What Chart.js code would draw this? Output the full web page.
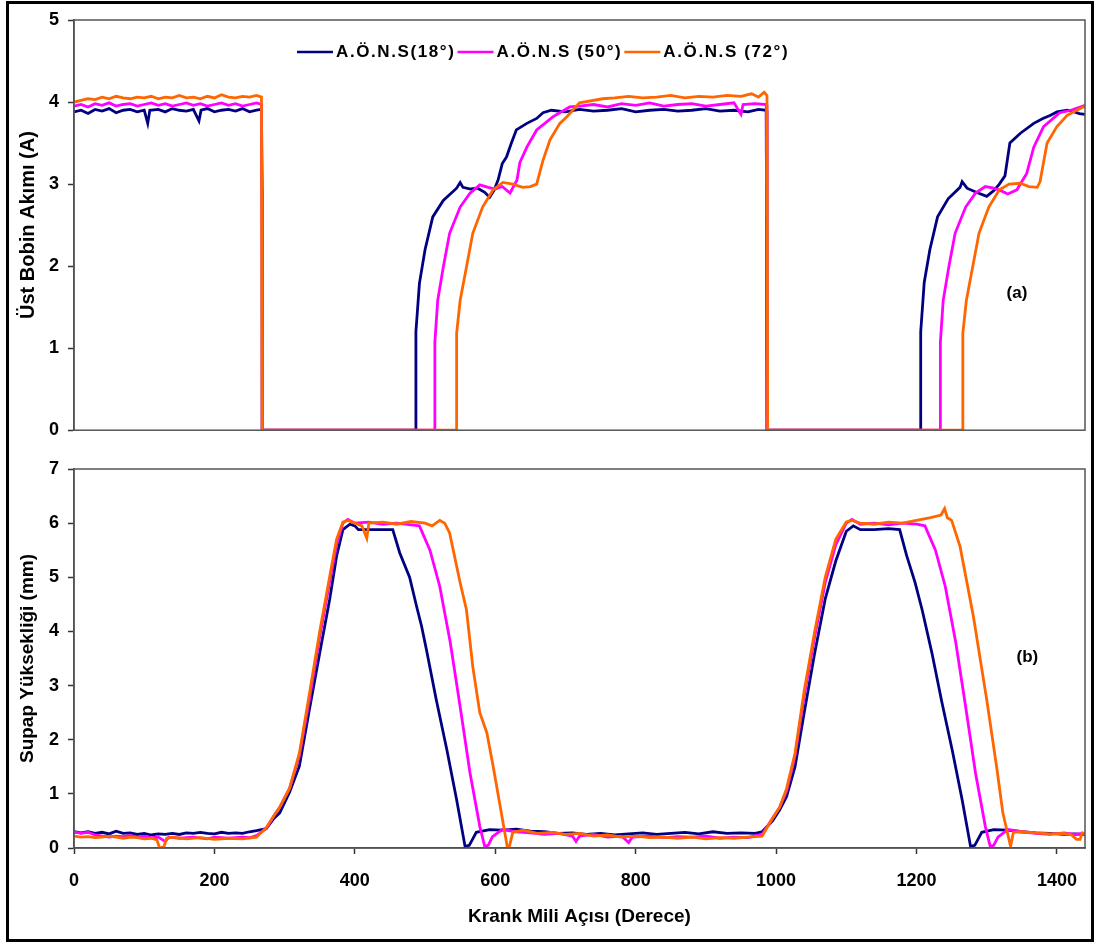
<!DOCTYPE html>
<html>
<head>
<meta charset="utf-8">
<title>Üst Bobin Akımı ve Supap Yüksekliği</title>
<script src="https://cdn.jsdelivr.net/npm/chart.js@4.4.1/dist/chart.umd.min.js"></script>
<style>
  body { margin: 0; background: #fff; }
  #frame { position: absolute; left: 6px; top: 1px; width: 1088px; height: 941px; border: 3px solid #000; box-sizing: border-box; }
  .panel { position: absolute; left: 0; width: 1096px; }
  #topBox { top: 0; height: 450px; }
  #bottomBox { top: 440px; height: 503px; }
</style>
</head>
<body>
<div id="frame"></div>
<div class="panel" id="topBox"><canvas id="coilChart"></canvas></div>
<div class="panel" id="bottomBox"><canvas id="liftChart"></canvas></div>
<script>
// series names and colours
const seriesLabels = ['A.Ö.N.S(18°)', 'A.Ö.N.S (50°)', 'A.Ö.N.S (72°)'];
const seriesColors = ['#000080', '#ff00ff', '#ff6600'];

const xTitle = 'Krank Mili Açısı (Derece)';
const coilTitle = 'Üst Bobin Akımı (A)';
const liftTitle = 'Supap Yüksekliği (mm)';
const xTickValues = [0, 200, 400, 600, 800, 1000, 1200, 1400];

// (a) upper coil current, [crank angle, A]
const coil18 = [[0,3.88],[10,3.9],[20,3.86],[30,3.91],[40,3.89],[50,3.92],[60,3.87],[70,3.9],[80,3.91],[90,3.88],[100,3.9],[105,3.74],[108,3.9],[120,3.91],[130,3.88],[140,3.92],[150,3.9],[160,3.89],[170,3.91],[178,3.77],[181,3.9],[190,3.92],[200,3.88],[210,3.9],[220,3.91],[230,3.89],[240,3.92],[250,3.88],[260,3.9],[267,3.91],[268,2.9],[268,0],
  [487,0],[487,1.2],[492,1.79],[500,2.2],[511,2.6],[526,2.8],[545,2.95],[550,3.02],[554,2.96],[565,2.94],[575,2.95],[585,2.9],[592,2.84],[598,2.92],[604,3.05],[610,3.25],[616,3.33],[623,3.5],[630,3.66],[645,3.74],[659,3.8],[668,3.87],[680,3.9],[700,3.88],[720,3.91],[740,3.89],[760,3.9],[780,3.92],[800,3.88],[820,3.9],[840,3.91],[860,3.89],[880,3.9],[900,3.92],[920,3.89],[940,3.9],[960,3.88],[975,3.91],[986,3.9],[987,2.1],[987,0],
  [1206,0],[1206,1.2],[1211,1.8],[1219,2.2],[1230,2.6],[1245,2.82],[1262,2.96],[1265,3.03],[1272,2.95],[1285,2.9],[1300,2.85],[1310,2.92],[1318,3.0],[1326,3.1],[1333,3.5],[1348,3.62],[1367,3.74],[1380,3.8],[1391,3.84],[1400,3.88],[1415,3.9],[1425,3.88],[1432,3.86],[1440,3.85]];

const coil50 = [[0,3.95],[10,3.97],[20,3.94],[30,3.98],[40,3.96],[50,3.99],[60,3.95],[70,3.97],[80,3.98],[90,3.95],[100,3.97],[110,3.99],[120,3.96],[130,3.98],[140,3.95],[150,3.97],[160,3.99],[170,3.96],[180,3.98],[190,3.95],[200,3.97],[210,3.99],[220,3.96],[230,3.98],[240,3.95],[250,3.97],[260,3.99],[267,3.97],[268,2.0],[268,0],
  [514,0],[514,1.07],[518,1.58],[526,1.99],[535,2.4],[550,2.72],[564,2.89],[578,2.99],[590,2.96],[600,2.94],[610,2.97],[621,2.89],[631,3.05],[635,3.26],[645,3.45],[659,3.66],[682,3.82],[706,3.94],[720,3.95],[740,3.97],[760,3.94],[780,3.98],[800,3.96],[820,3.99],[840,3.95],[860,3.97],[880,3.98],[900,3.95],[920,3.97],[940,3.99],[950,3.85],[953,3.97],[970,3.98],[986,3.97],[987,0],
  [1234,0],[1234,1.07],[1238,1.58],[1246,1.99],[1255,2.4],[1270,2.72],[1284,2.89],[1298,2.97],[1310,2.95],[1320,2.92],[1330,2.88],[1343,2.93],[1357,3.13],[1367,3.45],[1381,3.7],[1404,3.87],[1420,3.9],[1433,3.94],[1440,3.96]];

const coil72 = [[0,4.0],[10,4.02],[20,4.04],[30,4.03],[40,4.06],[50,4.04],[60,4.07],[70,4.05],[80,4.04],[90,4.06],[100,4.05],[110,4.07],[120,4.04],[130,4.06],[140,4.05],[150,4.08],[160,4.05],[170,4.06],[180,4.04],[190,4.07],[200,4.05],[210,4.09],[220,4.06],[230,4.05],[240,4.07],[250,4.06],[260,4.08],[267,4.06],[268,0],
  [545,0],[545,1.18],[550,1.58],[559,1.99],[568,2.4],[582,2.72],[597,2.93],[611,3.02],[625,3.0],[639,2.96],[650,2.97],[659,3.0],[668,3.29],[678,3.54],[692,3.74],[702,3.82],[720,3.99],[753,4.04],[770,4.05],[790,4.07],[810,4.05],[830,4.06],[850,4.08],[870,4.05],[890,4.07],[910,4.06],[930,4.08],[950,4.07],[965,4.1],[975,4.06],[983,4.12],[987,4.08],[988,0],
  [1266,0],[1266,1.18],[1271,1.58],[1280,1.99],[1289,2.4],[1303,2.72],[1318,2.93],[1332,3.0],[1348,3.01],[1360,2.97],[1372,2.96],[1376,3.03],[1386,3.5],[1400,3.7],[1415,3.84],[1428,3.9],[1440,3.95]];

// (b) valve lift, [crank angle, mm]
const lift18 = [[0,0.3],[10,0.28],[20,0.3],[30,0.27],[40,0.29],[50,0.26],[60,0.31],[70,0.27],[80,0.28],[90,0.25],[100,0.27],[110,0.24],[120,0.26],[130,0.25],[140,0.27],[150,0.25],[160,0.28],[170,0.27],[180,0.29],[190,0.27],[200,0.26],[210,0.29],[220,0.27],[230,0.28],[240,0.27],[250,0.3],[260,0.32],[274,0.36],[285,0.55],[293,0.65],[307,1.03],[321,1.51],[336,2.61],[350,3.6],[364,4.58],[374,5.39],[383,5.88],[393,5.98],[400,5.95],[405,5.88],[420,5.88],[440,5.88],[454,5.88],[464,5.45],[478,5.0],[488,4.46],[495,4.1],[502,3.66],[516,2.74],[531,1.82],[545,0.89],[557,0.03],[563,0.05],[573,0.29],[592,0.34],[610,0.33],[630,0.35],[650,0.31],[670,0.3],[690,0.27],[710,0.28],[730,0.25],[750,0.27],[770,0.24],[790,0.26],[810,0.28],[830,0.25],[850,0.27],[870,0.29],[890,0.26],[910,0.3],[930,0.27],[950,0.28],[970,0.27],
  [980,0.3],[995,0.5],[1005,0.7],[1015,0.95],[1027,1.5],[1040,2.5],[1055,3.6],[1070,4.6],[1085,5.3],[1100,5.85],[1110,5.95],[1120,5.88],[1140,5.88],[1160,5.9],[1176,5.88],[1186,5.4],[1198,4.9],[1208,4.4],[1222,3.6],[1236,2.7],[1251,1.8],[1265,0.89],[1277,0.03],[1283,0.05],[1293,0.29],[1310,0.34],[1330,0.33],[1350,0.3],[1370,0.28],[1390,0.27],[1410,0.25],[1425,0.26],[1440,0.25]];

const lift50 = [[0,0.3],[10,0.27],[20,0.29],[30,0.24],[40,0.22],[50,0.2],[60,0.22],[70,0.21],[80,0.23],[90,0.2],[100,0.22],[110,0.19],[120,0.2],[130,0.12],[135,0.2],[150,0.18],[170,0.2],[190,0.17],[200,0.2],[220,0.18],[240,0.2],[250,0.19],[260,0.23],[274,0.36],[285,0.6],[293,0.75],[307,1.1],[321,1.7],[336,2.8],[350,3.9],[364,4.9],[374,5.6],[383,6.0],[390,6.07],[400,6.0],[420,6.02],[440,5.98],[460,6.0],[480,5.97],[492,5.95],[507,5.5],[521,4.83],[536,3.79],[550,2.61],[564,1.39],[578,0.4],[585,0.03],[590,0.05],[596,0.21],[610,0.34],[630,0.3],[650,0.28],[670,0.25],[690,0.27],[710,0.22],[715,0.12],[720,0.22],[740,0.25],[760,0.2],[780,0.22],[790,0.1],[795,0.2],[820,0.22],[840,0.19],[860,0.21],[880,0.2],[900,0.22],[920,0.18],[940,0.2],[960,0.19],
  [980,0.25],[995,0.55],[1005,0.75],[1015,1.05],[1027,1.7],[1040,2.8],[1055,3.9],[1070,4.9],[1085,5.6],[1100,6.0],[1108,6.07],[1120,5.98],[1140,6.0],[1160,5.97],[1180,6.0],[1200,5.98],[1212,5.95],[1227,5.5],[1241,4.83],[1256,3.79],[1270,2.61],[1284,1.39],[1298,0.4],[1305,0.03],[1310,0.05],[1316,0.2],[1330,0.34],[1350,0.3],[1370,0.27],[1390,0.25],[1410,0.28],[1425,0.25],[1440,0.27]];

const lift72 = [[0,0.22],[10,0.2],[20,0.21],[30,0.19],[40,0.2],[50,0.22],[60,0.2],[70,0.18],[80,0.2],[90,0.19],[100,0.17],[110,0.18],[118,0.15],[122,0.0],[128,0.02],[132,0.18],[140,0.2],[160,0.17],[180,0.19],[200,0.16],[220,0.18],[240,0.17],[260,0.2],[274,0.38],[285,0.6],[293,0.75],[307,1.1],[321,1.75],[336,2.9],[350,4.0],[364,5.0],[374,5.7],[383,6.02],[390,6.05],[400,6.0],[410,5.95],[417,5.72],[420,6.0],[440,6.02],[460,5.98],[480,6.03],[500,6.0],[510,5.95],[521,6.05],[528,6.0],[535,5.82],[550,4.9],[559,4.4],[568,3.35],[578,2.5],[588,2.13],[597,1.51],[607,0.77],[617,0.03],[620,0.02],[625,0.29],[640,0.33],[660,0.27],[680,0.29],[700,0.25],[720,0.27],[740,0.22],[760,0.24],[780,0.2],[800,0.22],[820,0.19],[840,0.2],[860,0.18],[880,0.2],[900,0.17],[920,0.19],[940,0.18],[960,0.2],
  [980,0.22],[995,0.55],[1005,0.75],[1015,1.1],[1027,1.75],[1040,2.9],[1055,4.0],[1070,5.0],[1085,5.7],[1100,6.02],[1108,6.05],[1120,6.0],[1140,5.98],[1160,6.02],[1180,6.0],[1200,6.05],[1220,6.1],[1235,6.15],[1240,6.27],[1244,6.1],[1250,6.05],[1262,5.57],[1281,4.28],[1300,2.74],[1314,1.51],[1323,0.65],[1334,0.03],[1338,0.29],[1350,0.3],[1370,0.28],[1390,0.26],[1410,0.27],[1420,0.25],[1428,0.16],[1433,0.16],[1436,0.28],[1440,0.27]];

const FONT = '"Liberation Sans", Arial, sans-serif';
const tickFont = { family: FONT, size: 18, weight: 'bold' };

const toPoints = pairs => pairs.map(p => ({ x: p[0], y: p[1] }));

function makeSets(groups) {
  return groups.map((g, i) => ({
    label: seriesLabels[i],
    data: toPoints(g),
    borderColor: seriesColors[i],
    backgroundColor: seriesColors[i],
    borderWidth: 2.8,
    pointRadius: 0,
    tension: 0,
    fill: false,
    order: 2 - i // orange drawn on top
  }));
}

// plot frame (top and right edges of each panel)
const frameBox = {
  id: 'frameBox',
  afterDatasetsDraw(chart) {
    const { ctx, chartArea: a } = chart;
    ctx.save();
    ctx.strokeStyle = '#555';
    ctx.lineWidth = 1.5;
    ctx.strokeRect(a.left, a.top, a.right - a.left, a.bottom - a.top);
    ctx.restore();
  }
};

// legend drawn inside the upper panel
const innerLegend = {
  id: 'innerLegend',
  afterDraw(chart, args, opts) {
    if (!opts.show) return;
    const { ctx, chartArea } = chart;
    ctx.save();
    ctx.font = 'bold 17px ' + FONT;
    ctx.letterSpacing = '1.6px';
    ctx.textBaseline = 'middle';
    let x = chartArea.left + 223;
    const y = chartArea.top + 32;
    chart.data.datasets.forEach(ds => {
      ctx.strokeStyle = ds.borderColor;
      ctx.lineWidth = 2.5;
      ctx.beginPath();
      ctx.moveTo(x, y);
      ctx.lineTo(x + 36, y);
      ctx.stroke();
      ctx.fillStyle = '#000';
      ctx.fillText(ds.label, x + 39, y);
      x += 39 + ctx.measureText(ds.label).width + 2;
    });
    ctx.restore();
  }
};

// "(a)" / "(b)" tag placed in data coordinates
const panelTag = {
  id: 'panelTag',
  afterDraw(chart, args, opts) {
    if (!opts.text) return;
    const { ctx, scales } = chart;
    ctx.save();
    ctx.font = 'bold 17px ' + FONT;
    ctx.fillStyle = '#000';
    ctx.textAlign = 'center';
    ctx.textBaseline = 'middle';
    ctx.fillText(opts.text, scales.x.getPixelForValue(opts.x), scales.y.getPixelForValue(opts.y));
    ctx.restore();
  }
};

function yAxis(max, text, titleSize) {
  return {
    min: 0,
    max: max,
    ticks: { stepSize: 1, color: '#000', font: tickFont, padding: 9 },
    grid: { drawOnChartArea: false, tickLength: 6, tickColor: '#333', tickWidth: 1.5 },
    border: { color: '#444', width: 1.5 },
    title: {
      display: true, text: text, color: '#000',
      font: { family: FONT, size: titleSize, weight: 'bold' },
      padding: { top: 28 - titleSize * 0.6, bottom: 0 }
    },
    afterFit: s => { s.width = 74; }
  };
}

function xAxis(show) {
  return {
    type: 'linear',
    min: 0,
    max: 1440,
    display: show,
    afterBuildTicks: s => { s.ticks = xTickValues.map(v => ({ value: v })); },
    ticks: { color: '#000', font: tickFont, padding: 16, callback: v => String(v) },
    grid: { drawOnChartArea: false, tickLength: 6, tickColor: '#333', tickWidth: 1.5 },
    border: { color: '#444', width: 1.5 },
    title: { display: true, text: xTitle, color: '#000', font: { family: FONT, size: 19, weight: 'bold' }, padding: { top: 0, bottom: 0 } },
    afterFit: s => { if (show) s.height = 80; }
  };
}

function makeChart(id, groups, yMax, yText, titleSize, showX, padding, legend, tag) {
  return new Chart(document.getElementById(id).getContext('2d'), {
    type: 'line',
    data: { datasets: makeSets(groups) },
    options: {
      responsive: true,
      maintainAspectRatio: false,
      animation: false,
      layout: { padding: padding },
      scales: { x: xAxis(showX), y: yAxis(yMax, yText, titleSize) },
      plugins: {
        legend: { display: false },
        tooltip: { enabled: false },
        innerLegend: { show: legend },
        panelTag: tag
      }
    },
    plugins: [frameBox, innerLegend, panelTag]
  });
}

makeChart('coilChart', [coil18, coil50, coil72], 5, coilTitle, 20, false,
  { left: 0, right: 11, top: 20, bottom: 0 }, true, { text: '(a)', x: 1343, y: 1.67 });
makeChart('liftChart', [lift18, lift50, lift72], 7, liftTitle, 19, true,
  { left: 0, right: 11, top: 29, bottom: 15 }, false, { text: '(b)', x: 1358, y: 3.53 });
</script>
</body>
</html>
